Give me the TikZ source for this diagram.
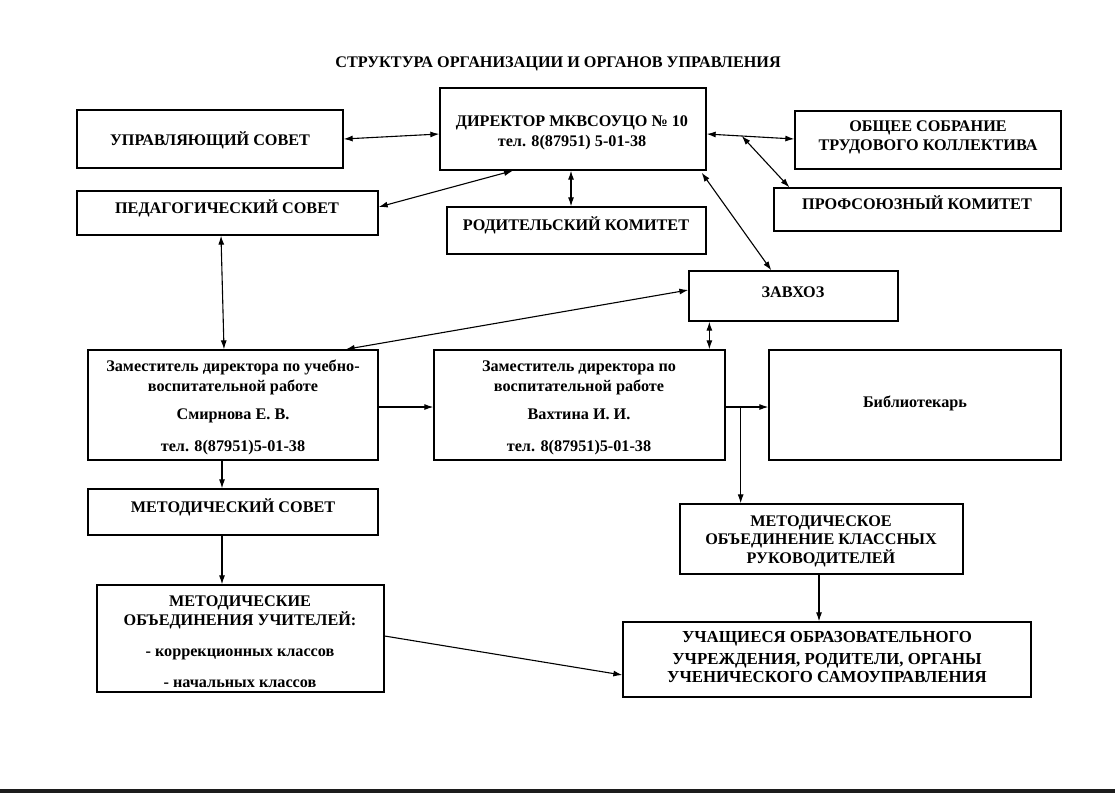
\documentclass[tikz,border=0pt]{standalone}
\usepackage{fontspec}
\setmainfont{Liberation Serif}
\usetikzlibrary{arrows.meta,calc}
\begin{document}
\begin{tikzpicture}[x=1pt,y=-1pt,
  box/.style={draw=black,line width=1.3pt,inner sep=0pt,rectangle},
  txt/.style={inner sep=0pt,font=\bfseries\fontsize{16.2}{19}\selectfont,text height=10.7pt,text depth=0pt},
  ttl/.style={inner sep=0pt,font=\bfseries\fontsize{16.2}{19}\selectfont,text height=10.7pt,text depth=0pt},
  conn/.style={line width=1.1pt,-{Latex[length=9pt,width=6pt]}},
  dconn/.style={line width=1.1pt,{Latex[length=9pt,width=6pt]}-{Latex[length=9pt,width=6pt]}}]
\useasboundingbox (0,0) rectangle (1115,793);
\fill[white] (0,0) rectangle (1115,793);
\fill[black!78!gray] (0,789) rectangle (1115,793);

% title
\node[ttl] (title) at (558,62) {СТРУКТУРА ОРГАНИЗАЦИИ И ОРГАНОВ УПРАВЛЕНИЯ};

% boxes
\node[box,minimum width=266pt,minimum height=58pt] (upr) at (210,139) {};
\node[box,minimum width=266pt,minimum height=82pt] (dir) at (573,129) {};
\node[box,minimum width=266pt,minimum height=58pt] (obs) at (928,140) {};
\node[box,minimum width=301pt,minimum height=44pt] (ped) at (227.5,213) {};
\node[box,minimum width=259pt,minimum height=47pt] (rod) at (576.5,230.5) {};
\node[box,minimum width=287pt,minimum height=43pt] (prof) at (917.5,209.5) {};
\node[box,minimum width=209pt,minimum height=50pt] (zav) at (793.5,296) {};
\node[box,minimum width=290pt,minimum height=110pt] (zuvr) at (233,405) {};
\node[box,minimum width=291pt,minimum height=110pt] (zvr) at (579.5,405) {};
\node[box,minimum width=292pt,minimum height=110pt] (bib) at (915,405) {};
\node[box,minimum width=290pt,minimum height=46pt] (ms) at (233,512) {};
\node[box,minimum width=283pt,minimum height=70pt] (mok) at (821.5,539) {};
\node[box,minimum width=287pt,minimum height=107pt] (mu) at (240.5,638.5) {};
\node[box,minimum width=408pt,minimum height=75pt] (uch) at (827,659.5) {};

% texts
\node[txt] (uprT) at (210,140) {УПРАВЛЯЮЩИЙ СОВЕТ};
\node[txt] (dirT1) at (572,121) {ДИРЕКТОР МКВСОУЦО № 10};
\node[txt] (dirT2) at (572,141) {тел. 8(87951) 5-01-38};
\node[txt] (obsT1) at (928,126) {ОБЩЕЕ СОБРАНИЕ};
\node[txt] (obsT2) at (928,145) {ТРУДОВОГО КОЛЛЕКТИВА};
\node[txt] (pedT) at (227,208) {ПЕДАГОГИЧЕСКИЙ СОВЕТ};
\node[txt] (rodT) at (576,225) {РОДИТЕЛЬСКИЙ КОМИТЕТ};
\node[txt] (profT) at (917,204) {ПРОФСОЮЗНЫЙ КОМИТЕТ};
\node[txt] (zavT) at (793,292) {ЗАВХОЗ};
\node[txt] (zuvrT1) at (233,366) {Заместитель директора по учебно-};
\node[txt] (zuvrT2) at (233,386) {воспитательной работе};
\node[txt] (zuvrT3) at (233,414) {Смирнова Е. В.};
\node[txt] (zuvrT4) at (233,446) {тел. 8(87951)5-01-38};
\node[txt] (zvrT1) at (579,366) {Заместитель директора по};
\node[txt] (zvrT2) at (579,386) {воспитательной работе};
\node[txt] (zvrT3) at (579,414) {Вахтина И. И.};
\node[txt] (zvrT4) at (579,446) {тел. 8(87951)5-01-38};
\node[txt] (bibT) at (915,402) {Библиотекарь};
\node[txt] (msT) at (233,507) {МЕТОДИЧЕСКИЙ СОВЕТ};
\node[txt] (mokT1) at (821,521) {МЕТОДИЧЕСКОЕ};
\node[txt] (mokT2) at (821,539) {ОБЪЕДИНЕНИЕ КЛАССНЫХ};
\node[txt] (mokT3) at (821,558) {РУКОВОДИТЕЛЕЙ};
\node[txt] (muT1) at (240,601) {МЕТОДИЧЕСКИЕ};
\node[txt] (muT2) at (240,620) {ОБЪЕДИНЕНИЯ УЧИТЕЛЕЙ:};
\node[txt] (muT3) at (240,651) {- коррекционных классов};
\node[txt] (muT4) at (240,682) {- начальных классов};
\node[txt,font=\bfseries\fontsize{16.8}{19}\selectfont] (uchT1) at (827,637) {УЧАЩИЕСЯ ОБРАЗОВАТЕЛЬНОГО};
\node[txt,font=\bfseries\fontsize{16.8}{19}\selectfont] (uchT2) at (827,659) {УЧРЕЖДЕНИЯ, РОДИТЕЛИ, ОРГАНЫ};
\node[txt,font=\bfseries\fontsize{16.8}{19}\selectfont] (uchT3) at (827,677) {УЧЕНИЧЕСКОГО САМОУПРАВЛЕНИЯ};

% connectors
\draw[dconn] (upr.east) -- ([yshift=-5pt]dir.west);
\draw[dconn] ([xshift=-60pt]dir.south) -- ([yshift=6pt]ped.east);
\draw[dconn] ([xshift=-2pt]dir.south) -- ([xshift=-2pt]dir.south |- rod.north);
\coordinate (dirE) at ([yshift=-5pt]dir.east);
\coordinate (obsW) at ([yshift=1pt]obs.west);
\draw[dconn] (dirE) -- (obsW);
\coordinate (split) at ($(dirE)!0.4!(obsW)$);
\draw[dconn] (split) -- ([xshift=16pt]prof.north west);
\draw[dconn] ([xshift=-5pt,yshift=-2pt]dir.south east) -- ([xshift=83pt]zav.north west);
\draw[dconn] ([xshift=-6.5pt]ped.south) -- ([xshift=-9pt]zuvr.north);
\draw[dconn] ([yshift=6pt]zav.west) -- ([xshift=-33pt]zuvr.north east);
\draw[dconn] ([xshift=21pt]zav.south west) -- ([xshift=21pt]zav.south west |- zvr.north);
\draw[conn] ([yshift=-2pt]zuvr.east) -- ([yshift=-2pt]zvr.west);
\coordinate (zvrE) at ([yshift=-2pt]zvr.east);
\draw[conn] (zvrE) -- ([yshift=-2pt]bib.west);
\coordinate (branch) at ([xshift=15pt]zvrE);
\draw[conn] (branch) -- (branch |- mok.north);
\draw[conn] ([xshift=-11pt]zuvr.south) -- ([xshift=-11pt]zuvr.south |- ms.north);
\draw[conn] ([xshift=-11pt]ms.south) -- ([xshift=-11pt]ms.south |- mu.north);
\draw[conn] ([yshift=2.5pt]mu.east) -- ([yshift=-15.5pt]uch.west);
\draw[conn] ([xshift=-2.5pt]mok.south) -- ([xshift=-2.5pt]mok.south |- uch.north);
\end{tikzpicture}
\end{document}
